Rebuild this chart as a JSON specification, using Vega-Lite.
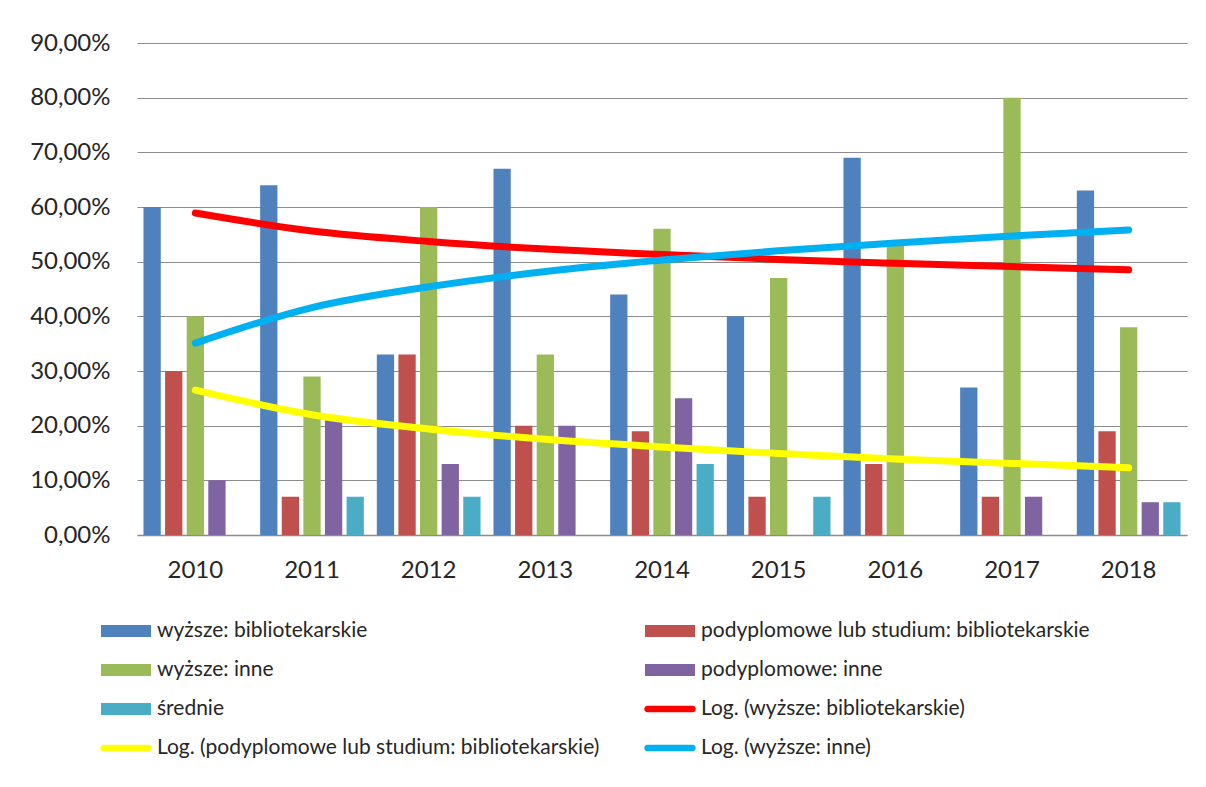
{
  "$schema": "https://vega.github.io/schema/vega-lite/v6.json",
  "width": 1050,
  "height": 492,
  "autosize": {"type": "none"},
  "padding": {"left": 137, "top": 43, "right": 19, "bottom": 252},
  "background": "white",
  "config": {
    "view": {"stroke": null},
    "font": "Lato",
    "axis": {"labelFont": "Lato", "labelFontSize": 24, "labelColor": "#262626", "title": null},
    "legend": {"labelFont": "Lato", "labelFontSize": 21, "labelColor": "#262626"}
  },
  "data": {
    "values": [
      {"year": "2010", "series": "wyższe: bibliotekarskie", "value": 60, "kind": "bar"},
      {"year": "2010", "series": "podyplomowe lub studium: bibliotekarskie", "value": 30, "kind": "bar"},
      {"year": "2010", "series": "wyższe: inne", "value": 40, "kind": "bar"},
      {"year": "2010", "series": "podyplomowe: inne", "value": 10, "kind": "bar"},
      {"year": "2011", "series": "wyższe: bibliotekarskie", "value": 64, "kind": "bar"},
      {"year": "2011", "series": "podyplomowe lub studium: bibliotekarskie", "value": 7, "kind": "bar"},
      {"year": "2011", "series": "wyższe: inne", "value": 29, "kind": "bar"},
      {"year": "2011", "series": "podyplomowe: inne", "value": 21, "kind": "bar"},
      {"year": "2011", "series": "średnie", "value": 7, "kind": "bar"},
      {"year": "2012", "series": "wyższe: bibliotekarskie", "value": 33, "kind": "bar"},
      {"year": "2012", "series": "podyplomowe lub studium: bibliotekarskie", "value": 33, "kind": "bar"},
      {"year": "2012", "series": "wyższe: inne", "value": 60, "kind": "bar"},
      {"year": "2012", "series": "podyplomowe: inne", "value": 13, "kind": "bar"},
      {"year": "2012", "series": "średnie", "value": 7, "kind": "bar"},
      {"year": "2013", "series": "wyższe: bibliotekarskie", "value": 67, "kind": "bar"},
      {"year": "2013", "series": "podyplomowe lub studium: bibliotekarskie", "value": 20, "kind": "bar"},
      {"year": "2013", "series": "wyższe: inne", "value": 33, "kind": "bar"},
      {"year": "2013", "series": "podyplomowe: inne", "value": 20, "kind": "bar"},
      {"year": "2014", "series": "wyższe: bibliotekarskie", "value": 44, "kind": "bar"},
      {"year": "2014", "series": "podyplomowe lub studium: bibliotekarskie", "value": 19, "kind": "bar"},
      {"year": "2014", "series": "wyższe: inne", "value": 56, "kind": "bar"},
      {"year": "2014", "series": "podyplomowe: inne", "value": 25, "kind": "bar"},
      {"year": "2014", "series": "średnie", "value": 13, "kind": "bar"},
      {"year": "2015", "series": "wyższe: bibliotekarskie", "value": 40, "kind": "bar"},
      {"year": "2015", "series": "podyplomowe lub studium: bibliotekarskie", "value": 7, "kind": "bar"},
      {"year": "2015", "series": "wyższe: inne", "value": 47, "kind": "bar"},
      {"year": "2015", "series": "średnie", "value": 7, "kind": "bar"},
      {"year": "2016", "series": "wyższe: bibliotekarskie", "value": 69, "kind": "bar"},
      {"year": "2016", "series": "podyplomowe lub studium: bibliotekarskie", "value": 13, "kind": "bar"},
      {"year": "2016", "series": "wyższe: inne", "value": 53, "kind": "bar"},
      {"year": "2017", "series": "wyższe: bibliotekarskie", "value": 27, "kind": "bar"},
      {"year": "2017", "series": "podyplomowe lub studium: bibliotekarskie", "value": 7, "kind": "bar"},
      {"year": "2017", "series": "wyższe: inne", "value": 80, "kind": "bar"},
      {"year": "2017", "series": "podyplomowe: inne", "value": 7, "kind": "bar"},
      {"year": "2018", "series": "wyższe: bibliotekarskie", "value": 63, "kind": "bar"},
      {"year": "2018", "series": "podyplomowe lub studium: bibliotekarskie", "value": 19, "kind": "bar"},
      {"year": "2018", "series": "wyższe: inne", "value": 38, "kind": "bar"},
      {"year": "2018", "series": "podyplomowe: inne", "value": 6, "kind": "bar"},
      {"year": "2018", "series": "średnie", "value": 6, "kind": "bar"},
      {"year": "2010", "series": "Log. (wyższe: bibliotekarskie)", "value": 58.9, "kind": "trend"},
      {"year": "2011", "series": "Log. (wyższe: bibliotekarskie)", "value": 55.6, "kind": "trend"},
      {"year": "2012", "series": "Log. (wyższe: bibliotekarskie)", "value": 53.7, "kind": "trend"},
      {"year": "2013", "series": "Log. (wyższe: bibliotekarskie)", "value": 52.3, "kind": "trend"},
      {"year": "2014", "series": "Log. (wyższe: bibliotekarskie)", "value": 51.3, "kind": "trend"},
      {"year": "2015", "series": "Log. (wyższe: bibliotekarskie)", "value": 50.4, "kind": "trend"},
      {"year": "2016", "series": "Log. (wyższe: bibliotekarskie)", "value": 49.7, "kind": "trend"},
      {"year": "2017", "series": "Log. (wyższe: bibliotekarskie)", "value": 49.1, "kind": "trend"},
      {"year": "2018", "series": "Log. (wyższe: bibliotekarskie)", "value": 48.5, "kind": "trend"},
      {"year": "2010", "series": "Log. (podyplomowe lub studium: bibliotekarskie)", "value": 26.5, "kind": "trend"},
      {"year": "2011", "series": "Log. (podyplomowe lub studium: bibliotekarskie)", "value": 22.0, "kind": "trend"},
      {"year": "2012", "series": "Log. (podyplomowe lub studium: bibliotekarskie)", "value": 19.4, "kind": "trend"},
      {"year": "2013", "series": "Log. (podyplomowe lub studium: bibliotekarskie)", "value": 17.5, "kind": "trend"},
      {"year": "2014", "series": "Log. (podyplomowe lub studium: bibliotekarskie)", "value": 16.1, "kind": "trend"},
      {"year": "2015", "series": "Log. (podyplomowe lub studium: bibliotekarskie)", "value": 14.9, "kind": "trend"},
      {"year": "2016", "series": "Log. (podyplomowe lub studium: bibliotekarskie)", "value": 13.9, "kind": "trend"},
      {"year": "2017", "series": "Log. (podyplomowe lub studium: bibliotekarskie)", "value": 13.1, "kind": "trend"},
      {"year": "2018", "series": "Log. (podyplomowe lub studium: bibliotekarskie)", "value": 12.3, "kind": "trend"},
      {"year": "2010", "series": "Log. (wyższe: inne)", "value": 35.1, "kind": "trend"},
      {"year": "2011", "series": "Log. (wyższe: inne)", "value": 41.6, "kind": "trend"},
      {"year": "2012", "series": "Log. (wyższe: inne)", "value": 45.4, "kind": "trend"},
      {"year": "2013", "series": "Log. (wyższe: inne)", "value": 48.2, "kind": "trend"},
      {"year": "2014", "series": "Log. (wyższe: inne)", "value": 50.3, "kind": "trend"},
      {"year": "2015", "series": "Log. (wyższe: inne)", "value": 52.0, "kind": "trend"},
      {"year": "2016", "series": "Log. (wyższe: inne)", "value": 53.4, "kind": "trend"},
      {"year": "2017", "series": "Log. (wyższe: inne)", "value": 54.7, "kind": "trend"},
      {"year": "2018", "series": "Log. (wyższe: inne)", "value": 55.8, "kind": "trend"}
    ]
  },
  "encoding": {
    "x": {
      "field": "year", "type": "nominal",
      "scale": {"paddingInner": 0, "paddingOuter": 0},
      "axis": {"labelAngle": 0, "ticks": false, "tickSize": 0, "labelPadding": 23, "domainColor": "#8c8c8c", "domainWidth": 1.5, "grid": false}
    },
    "y": {
      "field": "value", "type": "quantitative",
      "scale": {"domain": [0, 90], "nice": false},
      "axis": {"values": [0, 10, 20, 30, 40, 50, 60, 70, 80, 90], "labelExpr": "replace(format(datum.value, '.2f'), '.', ',') + '%'", "ticks": false, "tickSize": 0, "labelPadding": 27, "domain": false, "grid": true, "gridColor": "#8c8c8c", "gridWidth": 1}
    },
    "color": {
      "field": "series", "type": "nominal",
      "scale": {
        "domain": ["wyższe: bibliotekarskie", "podyplomowe lub studium: bibliotekarskie", "wyższe: inne", "podyplomowe: inne", "średnie", "Log. (wyższe: bibliotekarskie)", "Log. (podyplomowe lub studium: bibliotekarskie)", "Log. (wyższe: inne)"],
        "range": ["#4F81BD", "#C0504D", "#9BBB59", "#8064A2", "#4BACC6", "#FF0000", "#FFFF00", "#00B0F0"]
      },
      "legend": {"title": null, "orient": "none", "direction": "horizontal", "legendX": -36, "legendY": 563, "columns": 2, "columnPadding": 44, "rowPadding": 4, "symbolSize": 2500, "symbolOpacity": 1, "symbolStrokeWidth": 0, "labelOffset": 6, "labelLimit": 700}
    }
  },
  "layer": [
    {
      "transform": [{"filter": "datum.kind == 'bar'"}],
      "mark": {"type": "bar"},
      "encoding": {
        "xOffset": {
          "field": "series", "type": "nominal",
          "scale": {"domain": ["wyższe: bibliotekarskie", "podyplomowe lub studium: bibliotekarskie", "wyższe: inne", "podyplomowe: inne", "średnie"], "paddingInner": 0.2, "paddingOuter": 0.3}
        }
      }
    },
    {
      "transform": [{"filter": "datum.kind == 'trend'"}],
      "mark": {"type": "line", "strokeWidth": 7, "strokeCap": "round", "interpolate": "monotone"},
      "encoding": {}
    },
    {
      "mark": {"type": "point", "filled": true, "opacity": 0},
      "encoding": {
        "shape": {
          "field": "series", "type": "nominal",
          "scale": {
            "domain": ["wyższe: bibliotekarskie", "podyplomowe lub studium: bibliotekarskie", "wyższe: inne", "podyplomowe: inne", "średnie", "Log. (wyższe: bibliotekarskie)", "Log. (podyplomowe lub studium: bibliotekarskie)", "Log. (wyższe: inne)"],
            "range": ["M-1,-0.24H1V0.24H-1Z", "M-1,-0.24H1V0.24H-1Z", "M-1,-0.24H1V0.24H-1Z", "M-1,-0.24H1V0.24H-1Z", "M-1,-0.24H1V0.24H-1Z", "M-0.9,-0.13H0.9A0.13,0.13 0 0 1 0.9,0.13H-0.9A0.13,0.13 0 0 1 -0.9,-0.13Z", "M-0.9,-0.13H0.9A0.13,0.13 0 0 1 0.9,0.13H-0.9A0.13,0.13 0 0 1 -0.9,-0.13Z", "M-0.9,-0.13H0.9A0.13,0.13 0 0 1 0.9,0.13H-0.9A0.13,0.13 0 0 1 -0.9,-0.13Z"]
          },
          "legend": {"title": null, "orient": "none", "direction": "horizontal", "legendX": -36, "legendY": 563, "columns": 2, "columnPadding": 44, "rowPadding": 4, "symbolSize": 2500, "symbolOpacity": 1, "symbolStrokeWidth": 0, "labelOffset": 6, "labelLimit": 700}
        }
      }
    }
  ]
}
